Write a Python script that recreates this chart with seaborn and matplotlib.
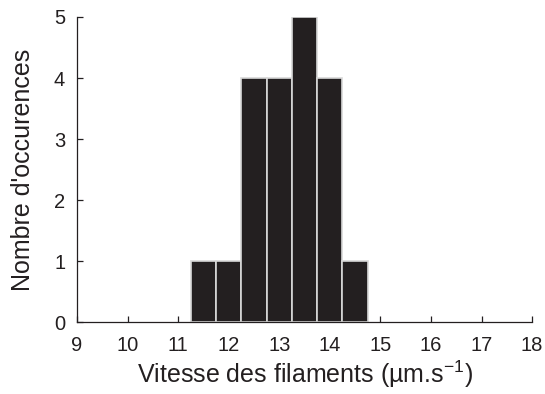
import matplotlib
matplotlib.use("Agg")
import matplotlib.pyplot as plt
import seaborn as sns
import pandas as pd

# histogram: bin centres (µm/s) and counts
bin_centers = [11.5, 12.0, 12.5, 13.0, 13.5, 14.0, 14.5]
counts = [1, 1, 4, 4, 5, 4, 1]
bin_width = 0.5
x_ticks = list(range(9, 19))
y_ticks = [0, 1, 2, 3, 4, 5]

df = pd.DataFrame({"vitesse": bin_centers, "n": counts})
bin_range = (min(bin_centers) - bin_width / 2, max(bin_centers) + bin_width / 2)

sns.set_style("ticks")
plt.rcParams["font.family"] = ["Liberation Sans", "DejaVu Sans"]
plt.rcParams["mathtext.default"] = "regular"

fig = plt.figure(figsize=(5.45, 3.94), dpi=100)
ax = fig.add_axes([0.1413, 0.1815, 0.835, 0.7755])

sns.histplot(data=df, x="vitesse", weights="n", binwidth=bin_width, binrange=bin_range,
             ax=ax, color="#231f20", alpha=1, edgecolor="#d8d8d8", linewidth=1.2)

ax.set_xlim(9, 18)
ax.set_ylim(0, 5)
ax.set_xticks(x_ticks)
ax.set_yticks(y_ticks)
ax.tick_params(direction="in", length=4, width=0.9, labelsize=14.5, colors="#231f20", pad=8.5)
ax.tick_params(axis="x", pad=9.5)
for s in ["top", "right"]:
    ax.spines[s].set_visible(False)
for s in ["left", "bottom"]:
    ax.spines[s].set_linewidth(0.9)
    ax.spines[s].set_color("#231f20")

ax.set_xlabel("Vitesse des filaments (µm.s$^{\\mathregular{-1}}$)", fontsize=18,
              color="#231f20", labelpad=3)
ax.set_ylabel("Nombre d'occurences", fontsize=18, color="#231f20", labelpad=14)

fig.savefig("out.png", dpi=100)
